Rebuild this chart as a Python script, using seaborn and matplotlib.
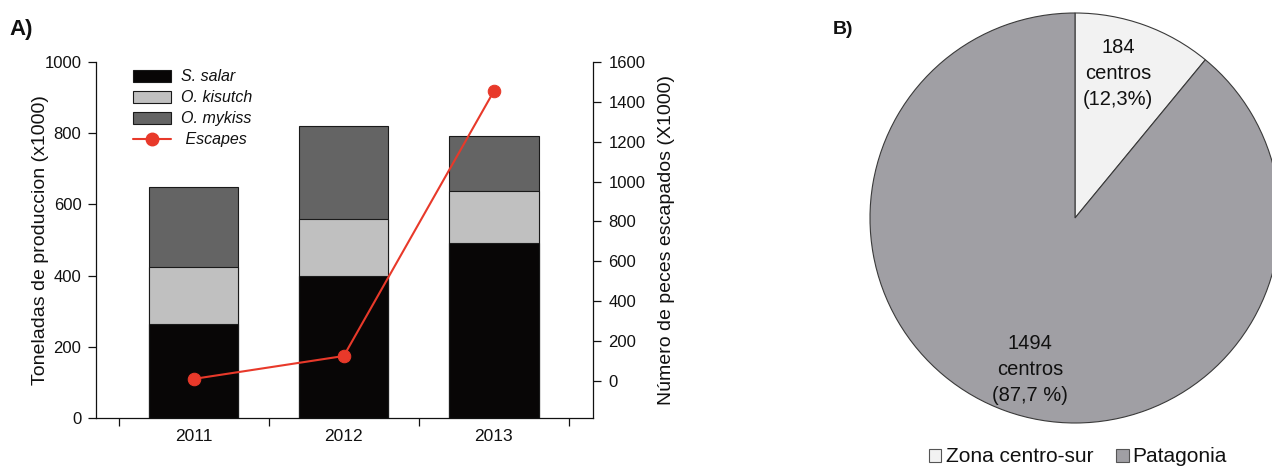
import numpy as np
import pandas as pd
import matplotlib
matplotlib.use("Agg")
import matplotlib.pyplot as plt
from matplotlib.patches import Patch
from matplotlib.lines import Line2D
import seaborn as sns

# Production by species (thousand tonnes) and escaped fish (thousands)
years = ["2011", "2012", "2013"]
s_salar = [264, 399, 492]
o_kisutch = [160, 160, 146]
o_mykiss = [225, 261, 154]
escapes = [10, 125, 1454]

# Farming centres by zone
zones = ["Zona centro-sur", "Patagonia"]
centres = [184, 1494]
zone_labels = ["184\ncentros\n(12,3%)", "1494\ncentros\n(87,7 %)"]

sns.set_theme(style="ticks")
plt.rcParams["font.family"] = ["Liberation Sans", "DejaVu Sans"]
plt.rcParams["text.color"] = "#111111"
plt.rcParams["axes.labelcolor"] = "#111111"
plt.rcParams["xtick.color"] = "#111111"
plt.rcParams["ytick.color"] = "#111111"

W, H = 1272, 466
fig = plt.figure(figsize=(W / 100, H / 100), dpi=100)

# ---------------- Panel A: stacked production bars + escapes line
axA = fig.add_axes([96 / W, (H - 418) / H, (593 - 96) / W, (418 - 62) / H])
c_salar, c_kisutch, c_mykiss = "#080606", "#c0c0c0", "#646464"
edge = "#1a1a1a"

df = pd.DataFrame({"year": years, "salar": s_salar,
                   "kisutch": o_kisutch, "mykiss": o_mykiss})
df["lvl2"] = df["salar"] + df["kisutch"]
df["total"] = df["lvl2"] + df["mykiss"]

for col, colr in [("total", c_mykiss), ("lvl2", c_kisutch), ("salar", c_salar)]:
    sns.barplot(data=df, x="year", y=col, color=colr, saturation=1, width=0.595,
                edgecolor=edge, linewidth=0.8, ax=axA)

axA.set_xlim(-0.65, 2.66)
axA.set_ylim(0, 1000)
axA.set_yticks(np.arange(0, 1001, 200))
axA.set_xlabel("")
axA.set_ylabel("Toneladas de produccion (x1000)", fontsize=14, labelpad=-3.5)
axA.tick_params(axis="x", which="major", length=0, labelsize=12.5, pad=8)
axA.set_xticks([-0.5, 0.5, 1.5, 2.5], minor=True)
axA.tick_params(axis="x", which="minor", length=6, width=0.9, direction="out")
axA.tick_params(axis="y", length=6, width=0.9, labelsize=12, pad=4.5, direction="out")
for side in ["top", "right"]:
    axA.spines[side].set_visible(False)
for side in ["left", "bottom"]:
    axA.spines[side].set_linewidth(0.9)
    axA.spines[side].set_color("#111111")

axR = axA.twinx()
red = "#e8392a"
sns.lineplot(x=np.arange(len(years)), y=escapes, ax=axR, color=red, linewidth=1.5,
             marker="o", markersize=9, markeredgecolor=red, markerfacecolor=red)
axR.set_ylim(-186, 1600)
axR.set_yticks(np.arange(0, 1601, 200))
axR.set_ylabel("Número de peces escapados (X1000)", fontsize=14, labelpad=9)
axR.tick_params(axis="y", length=6, width=0.9, labelsize=12, pad=5, direction="out")
for side in ["top", "left", "bottom"]:
    axR.spines[side].set_visible(False)
axR.spines["right"].set_linewidth(0.9)
axR.spines["right"].set_color("#111111")
axR.set_xlim(-0.65, 2.66)

handles = [
    Patch(facecolor=c_salar, edgecolor=edge, linewidth=0.8),
    Patch(facecolor=c_kisutch, edgecolor=edge, linewidth=0.8),
    Patch(facecolor=c_mykiss, edgecolor=edge, linewidth=0.8),
    Line2D([], [], color=red, linewidth=1.5, marker="o", markersize=9),
]
labels = ["S. salar", "O. kisutch", "O. mykiss", " Escapes"]
leg = axR.legend(handles, labels, loc="upper left", bbox_to_anchor=(0.045, 1.02),
                 frameon=False, handlelength=2.4, handleheight=0.8,
                 labelspacing=0.38, handletextpad=0.6, prop={"size": 11.5, "style": "italic"})

fig.text(9 / W, 1 - 30 / H, "A)", fontsize=16, fontweight="bold", va="center")

# ---------------- Panel B: pie of farming centres by zone
R = 205
axB = fig.add_axes([(1075 - R) / W, (H - 218 - R) / H, 2 * R / W, 2 * R / H])
pie_colors = ["#f2f2f2", "#a09fa4"]
wedges, _ = axB.pie(centres, colors=pie_colors, startangle=90, counterclock=False,
                    wedgeprops=dict(edgecolor="#3a3a3a", linewidth=0.8))
for w in wedges:
    w.set_clip_on(False)
axB.set_xlim(-1, 1)
axB.set_ylim(-1, 1)
axB.set_aspect("equal")
axB.axis("off")

axB.text(0.21, 0.705, zone_labels[0], ha="center", va="center", fontsize=14.5,
         linespacing=1.45)
axB.text(-0.22, -0.74, zone_labels[1], ha="center", va="center", fontsize=14.5,
         linespacing=1.45)

fig.legend([Patch(facecolor=c, edgecolor="#555555", linewidth=0.8) for c in pie_colors],
           zones, loc="center", bbox_to_anchor=(1078 / W, 1 - 457 / H), ncol=2,
           frameon=False, handlelength=0.6, handleheight=0.6, handletextpad=0.2,
           columnspacing=1.1, prop={"size": 15})

fig.text(833 / W, 1 - 30 / H, "B)", fontsize=14, fontweight="bold", va="center")

fig.savefig("out.png", dpi=100, facecolor="white")
